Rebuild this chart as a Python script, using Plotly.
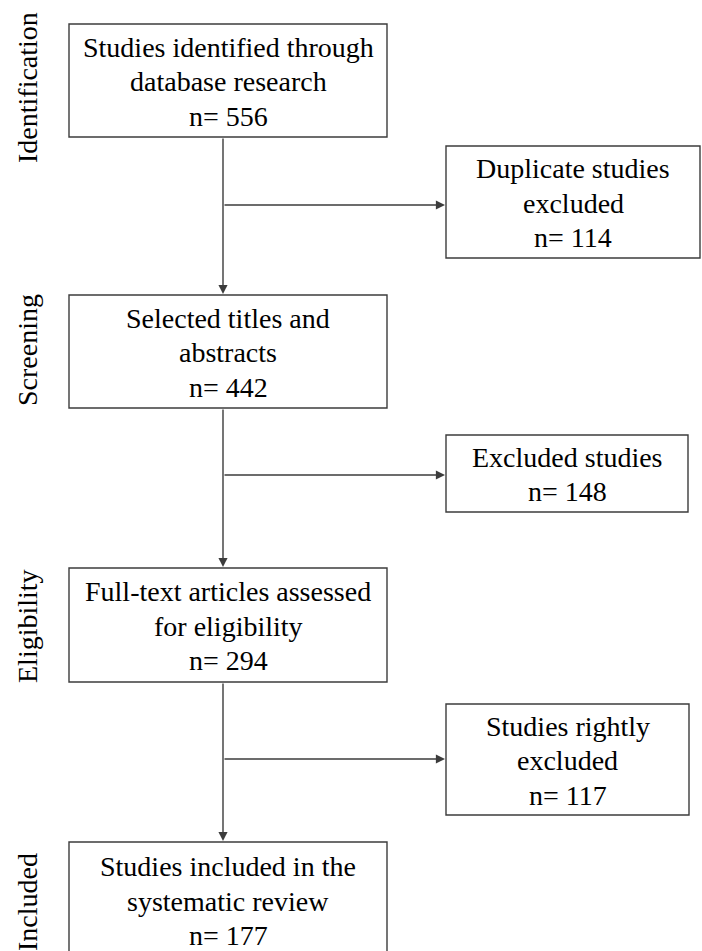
import plotly.graph_objects as go

# ---- content ----
stage_labels = ["Identification", "Screening", "Eligibility", "Included"]
main_lines = [["Studies identified through", "database research"],
              ["Selected titles and", "abstracts"],
              ["Full-text articles assessed", "for eligibility"],
              ["Studies included in the", "systematic review"]]
main_counts = [556, 442, 294, 177]
side_lines = [["Duplicate studies", "excluded"],
              ["Excluded studies"],
              ["Studies rightly", "excluded"]]
side_counts = [114, 148, 117]

# ---- layout (pixel coordinates of the page) ----
W, H = 702, 951
main_x = (69, 387)
main_y = [(24, 137), (295, 408), (568, 682), (842, 958)]
side_x = [(446, 700), (446, 688), (446, 689)]
side_y = [(146, 258), (435, 512), (704, 815)]
branch_y = [205, 475, 759]
label_y = [88, 350, 626, 902]
label_x = 27
spine_x = 223
line_gap = 34.5

line_color = "#3c3c3c"
lw = 1.4
font_fam = "Liberation Serif, Times New Roman, serif"
fs = 28

fig = go.Figure()
fig.add_trace(go.Scatter(x=[0, W], y=[0, H], mode="markers",
                         marker=dict(opacity=0), hoverinfo="skip", showlegend=False))

shapes = []
annotations = []


def add_text_block(lines, cx, cy):
    n = len(lines)
    for k, t in enumerate(lines):
        annotations.append(dict(x=cx, y=cy + 1 + (k - (n - 1) / 2) * line_gap,
                                xref="x", yref="y", text=t, showarrow=False,
                                font=dict(family=font_fam, size=fs, color="black"),
                                xanchor="center", yanchor="middle"))


for i in range(4):
    x0, x1 = main_x
    y0, y1 = main_y[i]
    shapes.append(dict(type="rect", x0=x0, x1=x1, y0=y0, y1=y1,
                       xref="x", yref="y", line=dict(color=line_color, width=lw),
                       fillcolor="white", layer="above"))
    add_text_block(main_lines[i] + [f"n= {main_counts[i]}"], (x0 + x1) / 2, (y0 + y1) / 2)
    annotations.append(dict(x=label_x, y=label_y[i], xref="x", yref="y",
                            text=stage_labels[i], textangle=-90, showarrow=False,
                            font=dict(family=font_fam, size=fs, color="black"),
                            xanchor="center", yanchor="middle"))

for i in range(3):
    x0, x1 = side_x[i]
    y0, y1 = side_y[i]
    shapes.append(dict(type="rect", x0=x0, x1=x1, y0=y0, y1=y1,
                       xref="x", yref="y", line=dict(color=line_color, width=lw),
                       fillcolor="white", layer="above"))
    add_text_block(side_lines[i] + [f"n= {side_counts[i]}"], (x0 + x1) / 2, (y0 + y1) / 2)
    # vertical arrow from main box i to main box i+1
    annotations.append(dict(x=spine_x, y=main_y[i + 1][0] - 1, ax=spine_x, ay=main_y[i][1],
                            xref="x", yref="y", axref="x", ayref="y", text="",
                            showarrow=True, arrowhead=2, arrowsize=1.3, arrowwidth=lw,
                            arrowcolor=line_color))
    # horizontal arrow to side box
    annotations.append(dict(x=x0 - 1, y=branch_y[i], ax=spine_x, ay=branch_y[i],
                            xref="x", yref="y", axref="x", ayref="y", text="",
                            showarrow=True, arrowhead=2, arrowsize=1.3, arrowwidth=lw,
                            arrowcolor=line_color))

fig.update_layout(width=W, height=H, margin=dict(l=0, r=0, t=0, b=0),
                  paper_bgcolor="white", plot_bgcolor="white",
                  xaxis=dict(range=[0, W], visible=False, fixedrange=True),
                  yaxis=dict(range=[H, 0], visible=False, fixedrange=True),
                  shapes=shapes, annotations=annotations, showlegend=False)

fig.write_html("out.html", config={"displayModeBar": False},
               post_script="document.body.style.margin='0';"
                           "document.documentElement.style.overflow='hidden';"
                           "document.body.style.overflow='hidden';")
